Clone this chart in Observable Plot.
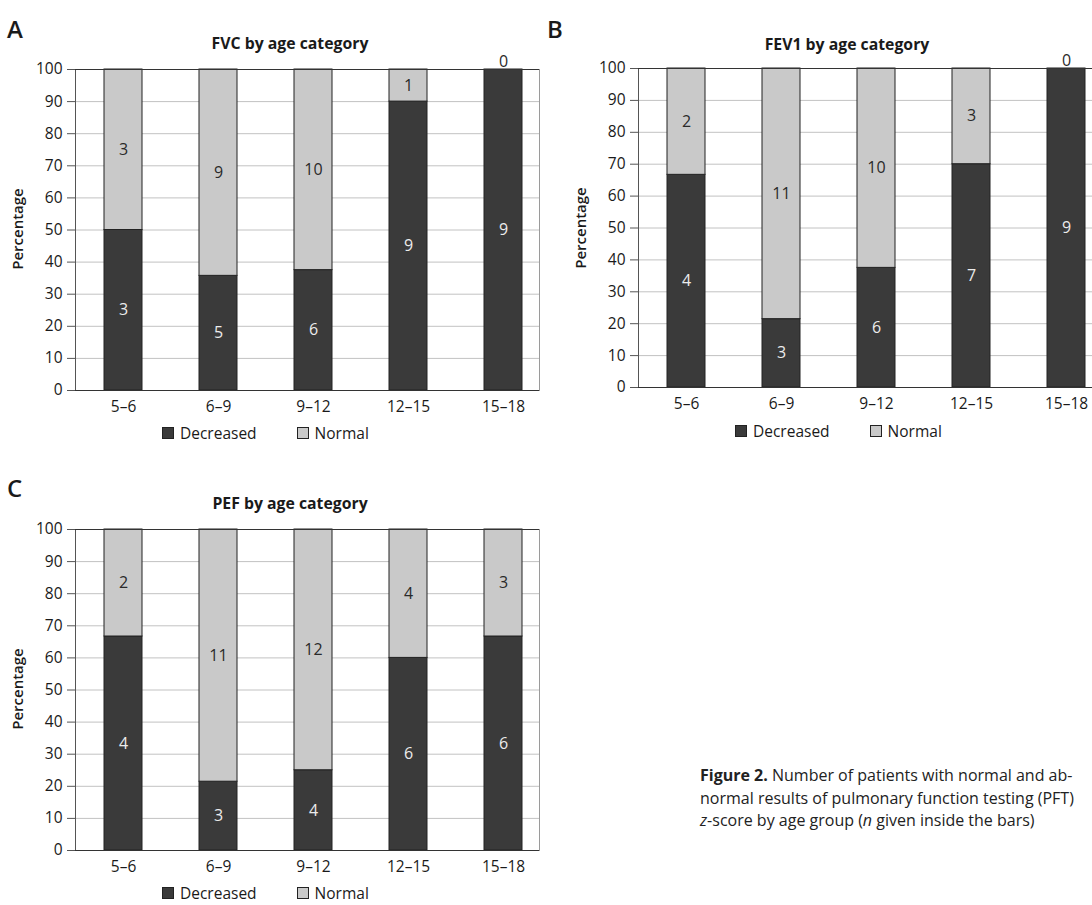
<!DOCTYPE html>
<html><head><meta charset="utf-8">
<script src="https://cdn.jsdelivr.net/npm/d3@7"></script>
<script src="https://cdn.jsdelivr.net/npm/@observablehq/plot@0.6"></script>
<style>
body{margin:0;width:1092px;height:905px;overflow:hidden;background:#fff;font-family:"Open Sans",sans-serif;color:#1a1a1a;position:relative}
.abs{position:absolute;white-space:nowrap}
.c{transform:translate(-50%,-50%)}
.letter{font-size:24px;font-weight:600}
.title{font-size:15.8px;font-weight:700}
.ylab{font-size:15px;font-weight:600;transform:translate(-50%,-50%) rotate(-90deg)}
.legend{font-size:15.5px;display:flex;align-items:center}
.sw{display:inline-block;width:10px;height:10px;border:1px solid #222;margin-right:6px}
.caption{font-size:16px;line-height:22.5px;color:#222}
svg{max-width:none !important}
</style></head><body>
<script>
const ageGroups = ["5–6", "6–9", "9–12", "12–15", "15–18"];
const statuses = ["Decreased", "Normal"];
const fvcDecreased = [3, 5, 6, 9, 9];
const fvcNormal = [3, 9, 10, 1, 0];
const fev1Decreased = [4, 3, 6, 7, 9];
const fev1Normal = [2, 11, 10, 3, 0];
const pefDecreased = [4, 3, 4, 6, 6];
const pefNormal = [2, 11, 12, 4, 3];
const yTicks = [0, 10, 20, 30, 40, 50, 60, 70, 80, 90, 100];
const titles = ["FVC by age category", "FEV1 by age category", "PEF by age category"];
const letters = ["A", "B", "C"];
const colors = {Decreased: "#3a3a3a", Normal: "#c9c9c9"};

function el(cls, html, style) {
  const d = document.createElement("div");
  d.className = "abs " + cls;
  d.innerHTML = html;
  Object.assign(d.style, style);
  document.body.appendChild(d);
  return d;
}

function rows(dec, nor) {
  const out = [];
  ageGroups.forEach((g, i) => {
    const tot = dec[i] + nor[i];
    const pd = dec[i] / tot * 100;
    out.push({age: g, status: "Decreased", n: dec[i], y1: 0, y2: pd, mid: pd / 2});
    out.push({age: g, status: "Normal", n: nor[i], y1: pd, y2: 100, mid: (pd + 100) / 2});
  });
  return out;
}

function chart(data, height) {
  return Plot.plot({
    width: 560, height, marginLeft: 75, marginRight: 21, marginTop: 69, marginBottom: 30,
    style: {fontFamily: "Open Sans, sans-serif", fontSize: "15px", color: "#1a1a1a", background: "transparent", overflow: "visible"},
    x: {domain: ageGroups, paddingInner: 0.6, paddingOuter: 0.23, align: 0.64, label: null},
    y: {domain: [0, 100], label: null},
    color: {domain: statuses, range: statuses.map(s => colors[s])},
    marks: [
      Plot.ruleY(yTicks.filter(t => t > 0 && t < 100), {stroke: "#c2c2c2", strokeWidth: 1, strokeOpacity: 1}),
      Plot.frame({stroke: "#9a9a9a"}),
      Plot.barY(data, {x: "age", y1: "y1", y2: "y2", fill: "status", stroke: "#222", strokeWidth: 1}),
      Plot.frame({anchor: "left", stroke: "#555"}),
      Plot.ruleY([100], {stroke: "#333"}),
      Plot.ruleY([0], {stroke: "#333"}),
      Plot.axisY({ticks: yTicks, tickSize: 8, tickPadding: 5, stroke: "#555", label: null, fontSize: 15.5}),
      Plot.axisX({tickSize: 0, tickPadding: 10, label: null, fontSize: 15.5}),
      Plot.text(data.filter(d => d.n > 0 && d.status === "Decreased"), {x: "age", y: "mid", text: "n", fill: "#ececec", fontSize: 16}),
      Plot.text(data.filter(d => d.n > 0 && d.status === "Normal"), {x: "age", y: "mid", text: "n", fill: "#2a2a2a", fontSize: 16}),
      Plot.text(data.filter(d => d.n === 0), {x: "age", y: "mid", text: "n", fill: "#2a2a2a", fontSize: 16, dy: -8})
    ]
  });
}

const panels = [
  {dec: fvcDecreased, nor: fvcNormal, left: 0, top: 0, h: 420},
  {dec: fev1Decreased, nor: fev1Normal, left: 563, top: -1, h: 418},
  {dec: pefDecreased, nor: pefNormal, left: 0, top: 459.5, h: 420}
];
const titlePos = [[290, 43], [847, 44], [290, 503]];
const letterPos = [[7, 29], [547, 29], [7, 488]];
const legendPos = [[162, 433], [735, 431], [162, 893]];

panels.forEach((p, i) => {
  const wrap = document.createElement("div");
  wrap.className = "abs";
  Object.assign(wrap.style, {left: p.left + "px", top: p.top + "px", width: "560px", height: p.h + "px"});
  wrap.appendChild(chart(rows(p.dec, p.nor), p.h));
  document.body.appendChild(wrap);
  el("title c", titles[i], {left: titlePos[i][0] + "px", top: titlePos[i][1] + "px"});
  el("letter", letters[i], {left: letterPos[i][0] + "px", top: (letterPos[i][1] - 17) + "px"});
  el("ylab", "Percentage", {left: (p.left + 17) + "px", top: (p.top + 229) + "px"});
  el("legend", statuses.map((s, k) =>
    `<span class="sw" style="background:${colors[s]}"></span><span style="margin-right:${k === 0 ? 40 : 0}px">${s}</span>`).join(""),
    {left: legendPos[i][0] + "px", top: (legendPos[i][1] - 11) + "px"});
});

el("caption", '<b>Figure 2.</b> Number of patients with normal and ab-<br>normal results of pulmonary function testing (PFT)<br><i>z</i>-score by age group (<i>n</i> given inside the bars)',
  {left: "700px", top: "764px"});
</script>
</body></html>
